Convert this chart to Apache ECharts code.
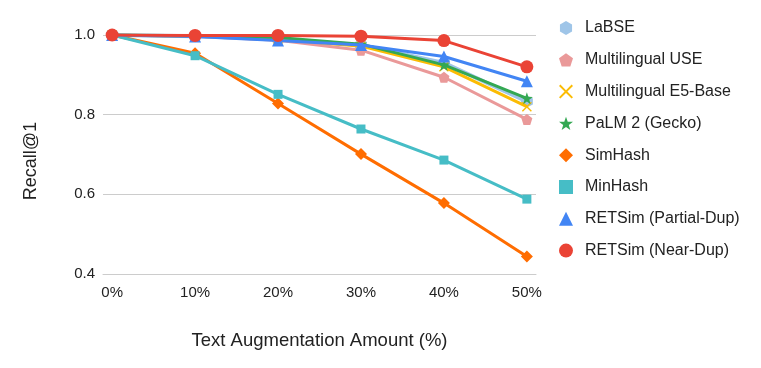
<!DOCTYPE html>
<html><head><meta charset="utf-8">
<script src="https://cdn.jsdelivr.net/npm/echarts@6/dist/echarts.min.js"></script>
<style>html,body{margin:0;padding:0;background:#fff}#c{width:761px;height:368px}</style>
</head><body><div id="c"></div>
<script>
const xValues = [0, 10, 20, 30, 40, 50];
const tickLabels = ['0%', '10%', '20%', '30%', '40%', '50%'];
const seriesNames = ['LaBSE', 'Multilingual USE', 'Multilingual E5-Base', 'PaLM 2 (Gecko)', 'SimHash', 'MinHash', 'RETSim (Partial-Dup)', 'RETSim (Near-Dup)'];
const labse      = [1.0, 0.997, 0.990, 0.975, 0.930, 0.833];
const mUSE       = [1.0, 0.997, 0.987, 0.962, 0.894, 0.788];
const mE5        = [1.0, 0.997, 0.990, 0.972, 0.920, 0.820];
const palm       = [1.0, 0.998, 0.994, 0.977, 0.925, 0.841];
const simhash    = [1.0, 0.954, 0.828, 0.701, 0.578, 0.444];
const minhash    = [1.0, 0.948, 0.851, 0.764, 0.686, 0.588];
const retPartial = [1.0, 0.996, 0.986, 0.975, 0.946, 0.884];
const retNear    = [1.0, 0.999, 0.999, 0.997, 0.986, 0.920];
const allData = [labse, mUSE, mE5, palm, simhash, minhash, retPartial, retNear];

const colors = ['#9fc5e8', '#ea9999', '#fbbc04', '#34a853', '#ff6d01', '#46bdc6', '#4285f4', '#ea4335'];
const HEX = 'path://M0,-10 L8.66,-5 L8.66,5 L0,10 L-8.66,5 L-8.66,-5 Z';
const PENT = 'path://M0,-10 L9.51,-3.09 L5.88,8.09 L-5.88,8.09 L-9.51,-3.09 Z';
const XS = 'path://M-10,-8 L-8,-10 L0,-2 L8,-10 L10,-8 L2,0 L10,8 L8,10 L0,2 L-8,10 L-10,8 L-2,0 Z';
const STAR = 'path://M0,-10 L2.35,-3.24 L9.51,-3.09 L3.80,1.24 L5.88,8.09 L0,4 L-5.88,8.09 L-3.80,1.24 L-9.51,-3.09 L-2.35,-3.24 Z';
const symbols = [HEX, PENT, XS, STAR, 'diamond', 'rect', 'triangle', 'circle'];
const symSizes = [12, 11, 10, 12, 12, 9, 12, 13];

const FONT = 'Liberation Sans, Arial, sans-serif';
const chart = echarts.init(document.getElementById('c'));
chart.setOption({
  animation: false,
  textStyle: { fontFamily: FONT },
  grid: { left: 103, right: 225, top: 35, bottom: 94 },
  legend: {
    orient: 'vertical', left: 554, top: 15, itemGap: 15.8, itemWidth: 14, itemHeight: 14,
    textStyle: { fontSize: 16, lineHeight: 16, color: '#222', padding: [0, 0, 0, 7] },
    data: seriesNames.map((n, i) => ({ name: n, icon: symbols[i], itemStyle: { color: colors[i] } }))
  },
  xAxis: {
    type: 'value', min: -1.1, max: 51.1,
    name: 'Text Augmentation Amount (%)', nameLocation: 'middle', nameGap: 57,
    nameTextStyle: { fontSize: 18.5, color: '#222' },
    axisLine: { show: true, lineStyle: { color: '#cccccc' } },
    axisTick: { show: false },
    splitLine: { show: false },
    axisLabel: { customValues: xValues, formatter: v => tickLabels[xValues.indexOf(v)], fontSize: 15, color: '#222', margin: 11 }
  },
  yAxis: {
    type: 'value', min: 0.4, max: 1.0, interval: 0.2,
    axisLine: { show: false }, axisTick: { show: false },
    splitLine: { lineStyle: { color: '#cccccc', width: 1 } },
    axisLabel: { formatter: v => v.toFixed(1), fontSize: 15, color: '#222', margin: 8 }
  },
  graphic: [{
    type: 'text', x: 31, y: 161, rotation: Math.PI / 2,
    style: { text: 'Recall@1', fontSize: 18, fill: '#222', fontFamily: FONT, align: 'center', verticalAlign: 'middle' }
  }],
  series: seriesNames.map((n, i) => ({
    name: n, type: 'line',
    data: xValues.map((x, j) => [x, allData[i][j]]),
    symbol: symbols[i], symbolSize: symSizes[i], showSymbol: true,
    lineStyle: { width: i === 0 ? 4 : 3, color: colors[i] },
    itemStyle: { color: colors[i] },
    z: 2 + i
  }))
});
</script></body></html>
